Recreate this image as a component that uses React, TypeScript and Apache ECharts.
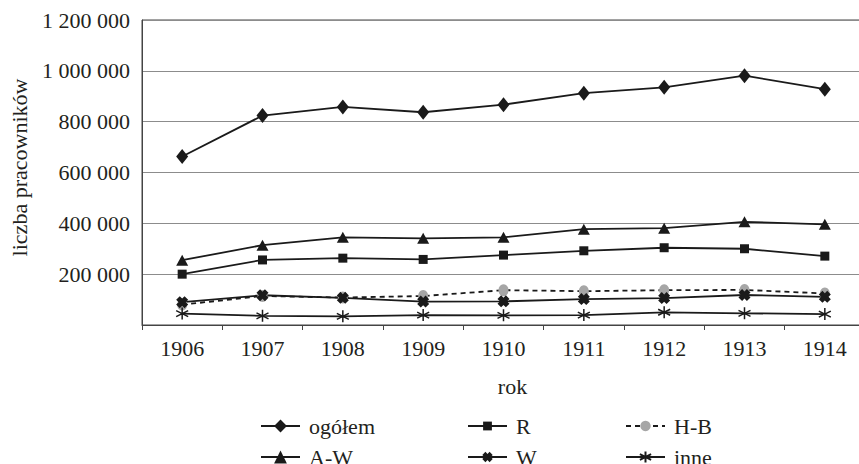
import React, { useEffect, useRef } from "react";
import * as echarts from "echarts";

const years = ["1906", "1907", "1908", "1909", "1910", "1911", "1912", "1913", "1914"];
const ogolem = [663000, 824000, 858000, 837000, 867000, 912000, 935000, 981000, 928000];
const aw = [255000, 314000, 345000, 341000, 345000, 377000, 381000, 406000, 396000];
const r = [200000, 256000, 263000, 258000, 275000, 292000, 304000, 300000, 271000];
const hb = [80000, 114000, 108000, 114000, 137000, 133000, 137000, 138000, 124000];
const w = [90000, 117000, 107000, 92000, 93000, 102000, 106000, 118000, 111000];
const inne = [45000, 36000, 34000, 39000, 38000, 39000, 50000, 46000, 43000];

const FONT = "'Liberation Serif', serif";
const TXT = "#231f20";
const LINE = "#1a1a1a";

const X_SYMBOL = "path://M3,0 L5,2 L7,0 L10,3 L8,5 L10,7 L7,10 L5,8 L3,10 L0,7 L2,5 L0,3 Z";
const STAR_SYMBOL = "path://M5,0 L5,10 M0.67,2.5 L9.33,7.5 M0.67,7.5 L9.33,2.5";

function fmt(v: number): string {
  if (v === 0) return "";
  return String(v).replace(/\B(?=(\d{3})+(?!\d))/g, " ");
}

export default function App() {
  const ref = useRef<HTMLDivElement>(null);
  useEffect(() => {
    if (!ref.current) return;
    const chart = echarts.init(ref.current, null, { renderer: "svg" });
    const leg = (name: string, left: number, top: number, itemHeight: number) => ({
      left,
      top,
      itemWidth: 39,
      itemHeight,
      padding: 0,
      data: [name],
      textStyle: { fontFamily: FONT, fontSize: 22, color: TXT, padding: [0, 0, 0, 4] },
    });
    const lineSeries = (name: string, data: number[], extra: any) => ({
      name,
      type: "line",
      data,
      color: LINE,
      lineStyle: { color: LINE, width: 1.8 },
      itemStyle: { color: LINE },
      ...extra,
    });
    chart.setOption({
      animation: false,
      textStyle: { fontFamily: FONT },
      grid: {
        left: 142,
        top: 20,
        right: -6,
        bottom: 139,
        show: true,
        borderColor: "#444",
        borderWidth: 1,
        outerBoundsMode: "none",
      },
      legend: [
        leg("ogółem", 260, 415, 16),
        leg("A-W", 260, 446, 16),
        leg("R", 467, 415, 11),
        leg("W", 467, 446, 13),
        leg("H-B", 625, 415, 13),
        leg("inne", 625, 446, 14),
      ],
      xAxis: {
        type: "category",
        data: years,
        boundaryGap: true,
        name: "rok",
        nameLocation: "middle",
        nameGap: 50,
        nameTextStyle: { fontFamily: FONT, fontSize: 22, color: TXT, padding: [0, 0, 0, 18] },
        axisLine: { lineStyle: { color: "#444", width: 1 } },
        axisTick: { show: true, length: 5, lineStyle: { color: "#444" } },
        axisLabel: { fontFamily: FONT, fontSize: 22, color: TXT, margin: 12 },
      },
      yAxis: {
        type: "value",
        min: 0,
        max: 1200000,
        interval: 200000,
        name: "liczba pracowników",
        nameLocation: "middle",
        nameGap: 112,
        nameTextStyle: { fontFamily: FONT, fontSize: 22, color: TXT, padding: [0, 0, 0, 10] },
        axisLine: { show: true, lineStyle: { color: "#444" } },
        axisTick: { show: false },
        splitLine: { lineStyle: { color: "#8c8c8c", width: 1 } },
        axisLabel: { fontFamily: FONT, fontSize: 22, color: TXT, margin: 12, formatter: fmt },
      },
      series: [
        lineSeries("ogółem", ogolem, { symbol: "diamond", symbolSize: [12, 15] }),
        lineSeries("R", r, { symbol: "rect", symbolSize: 9 }),
        {
          name: "H-B",
          type: "line",
          data: hb,
          color: "#a6a6a6",
          symbol: "circle",
          symbolSize: [10, 12],
          lineStyle: { color: LINE, width: 1.8, type: [5, 4] },
          itemStyle: { color: "#a6a6a6" },
        },
        lineSeries("A-W", aw, { symbol: "triangle", symbolSize: [12, 11] }),
        lineSeries("W", w, { symbol: X_SYMBOL, symbolSize: 12 }),
        lineSeries("inne", inne, {
          symbol: STAR_SYMBOL,
          symbolSize: 12,
          itemStyle: { color: LINE, borderColor: LINE, borderWidth: 1.5 },
        }),
      ],
    });
    return () => chart.dispose();
  }, []);
  return (
    <div
      ref={ref}
      style={{ position: "fixed", left: 0, top: 0, width: 859, height: 464, background: "#fff" }}
    />
  );
}
